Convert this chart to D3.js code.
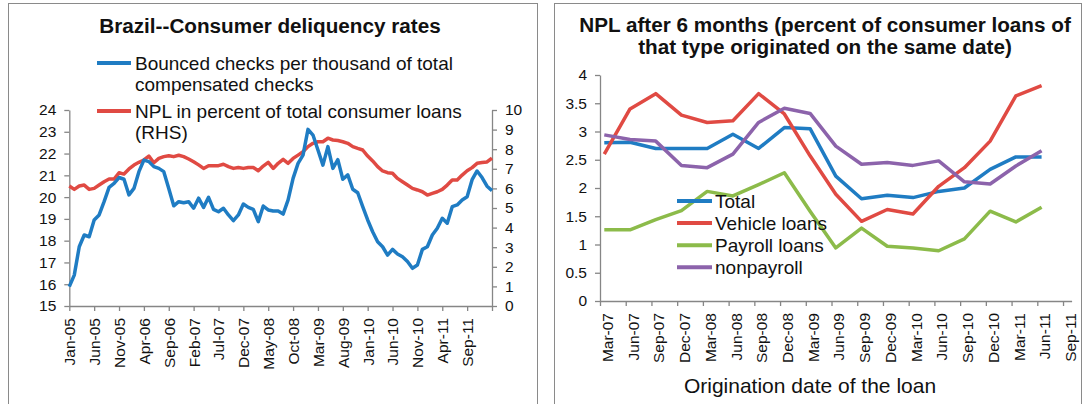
<!DOCTYPE html>
<html>
<head>
  <meta charset="utf-8">
  <title>Brazil consumer delinquency</title>
  <script src="https://d3js.org/d3.v7.min.js"></script>
  <style>
    body { margin: 0; background: #fff; }
    text { font-family: "Liberation Sans", Arial, sans-serif; fill: #111; }
    .axis path, .axis line { stroke: #868686; stroke-width: 1.3; }
    .axis text { font-size: 15.5px; fill: #111; }
    .title { font-size: 20.7px; font-weight: bold; }
    .legend { font-size: 19px; }
  </style>
</head>
<body>
<svg id="chart"></svg>
<script>
  // ---- left panel data: monthly, Jan-05 .. Feb-12 ----
  const bouncedChecks = [15.89, 16.42, 17.72, 18.26, 18.18, 18.95, 19.18, 19.79, 20.45, 20.63,
    20.9, 20.82, 20.1, 20.4, 21.17, 21.7, 21.63, 21.4, 21.32, 21.17,
    20.4, 19.6, 19.79, 19.74, 19.79, 19.49, 19.95, 19.53, 19.99, 19.44,
    19.33, 19.49, 19.18, 18.92, 19.18, 19.68, 19.53, 19.44, 18.87, 19.59,
    19.41, 19.36, 19.36, 19.22, 19.87, 20.86, 21.55, 21.93, 23.11, 22.85,
    22.16, 21.47, 22.32, 21.32, 21.72, 20.82, 21.02, 20.36, 20.2, 19.56,
    18.95, 18.41, 17.95, 17.72, 17.34, 17.6, 17.39, 17.26, 17.04, 16.73,
    16.88, 17.6, 17.72, 18.26, 18.57, 19.03, 18.8, 19.56, 19.64, 19.87,
    20.02, 20.8, 21.2, 20.9, 20.5, 20.3];
  const nplConsumer = [6.12, 5.95, 6.12, 6.17, 5.95, 6.0, 6.17, 6.34, 6.48, 6.48,
    6.8, 6.73, 6.99, 7.19, 7.33, 7.45, 7.65, 7.31, 7.53, 7.62,
    7.67, 7.62, 7.69, 7.62, 7.5, 7.36, 7.2, 7.02, 7.16, 7.16,
    7.16, 7.23, 7.11, 7.02, 7.07, 7.02, 7.07, 7.07, 6.9, 7.14,
    7.33, 7.02, 7.28, 7.48, 7.28, 7.53, 7.7, 7.87, 8.13, 8.3,
    8.38, 8.38, 8.56, 8.47, 8.44, 8.38, 8.3, 8.13, 8.04, 7.96,
    7.65, 7.4, 7.11, 6.89, 6.8, 6.77, 6.51, 6.34, 6.17, 6.0,
    5.92, 5.83, 5.66, 5.75, 5.83, 5.95, 6.17, 6.43, 6.43, 6.68,
    6.9, 7.06, 7.28, 7.32, 7.35, 7.55];
  const monthTickLabels = ["Jan-05", "Jun-05", "Nov-05", "Apr-06", "Sep-06", "Feb-07", "Jul-07",
    "Dec-07", "May-08", "Oct-08", "Mar-09", "Aug-09", "Jan-10", "Jun-10", "Nov-10", "Apr-11", "Sep-11"];

  // ---- right panel data: quarterly, Mar-07 .. Jun-11 ----
  const quarterLabels = ["Mar-07", "Jun-07", "Sep-07", "Dec-07", "Mar-08", "Jun-08", "Sep-08", "Dec-08",
    "Mar-09", "Jun-09", "Sep-09", "Dec-09", "Mar-10", "Jun-10", "Sep-10", "Dec-10", "Mar-11", "Jun-11", "Sep-11"];
  const totalNpl = [2.80, 2.81, 2.70, 2.70, 2.70, 2.95, 2.70, 3.07, 3.05, 2.21, 1.81, 1.87, 1.83, 1.94, 2.00, 2.33, 2.55, 2.55];
  const vehicleNpl = [2.60, 3.40, 3.67, 3.29, 3.16, 3.19, 3.67, 3.31, 2.57, 1.89, 1.41, 1.62, 1.54, 2.03, 2.36, 2.83, 3.63, 3.81];
  const payrollNpl = [1.26, 1.26, 1.44, 1.60, 1.94, 1.86, 2.06, 2.27, 1.59, 0.94, 1.29, 0.97, 0.94, 0.89, 1.10, 1.59, 1.40, 1.66];
  const nonpayrollNpl = [2.94, 2.86, 2.83, 2.40, 2.36, 2.60, 3.16, 3.41, 3.32, 2.74, 2.42, 2.45, 2.40, 2.48, 2.11, 2.07, 2.39, 2.66];

  const blue = "#1f7cc3", red = "#e04a43", green = "#8cbb4a", purple = "#8c63ab";

  const svg = d3.select("#chart").attr("width", 1086).attr("height", 404);

  // panel frames
  svg.append("rect").attr("x", 8.5).attr("y", 3.5).attr("width", 529).attr("height", 420)
    .attr("fill", "none").attr("stroke", "#8a8a8a");
  svg.append("rect").attr("x", 554.5).attr("y", 3.5).attr("width", 527).attr("height", 420)
    .attr("fill", "none").attr("stroke", "#8a8a8a");

  // ================= left chart =================
  const left = svg.append("g");
  const xL = d3.scaleLinear().domain([0, 85]).range([69.3, 492]);
  const yL = d3.scaleLinear().domain([15, 24]).range([306, 110]);
  const yR = d3.scaleLinear().domain([0, 10]).range([306, 110]);

  left.append("g").attr("class", "axis").attr("transform", "translate(69.3,0)")
    .call(d3.axisLeft(yL).tickValues(d3.range(15, 25)).tickSize(5).tickSizeOuter(0).tickPadding(8));
  left.append("g").attr("class", "axis").attr("transform", "translate(492,0)")
    .call(d3.axisRight(yR).tickValues(d3.range(0, 11)).tickSize(5).tickSizeOuter(0).tickPadding(8));
  const xAxisL = left.append("g").attr("class", "axis").attr("transform", "translate(0,306)")
    .call(d3.axisBottom(xL).tickValues(d3.range(0, 86, 5)).tickSize(5).tickSizeOuter(0)
      .tickFormat((d, i) => monthTickLabels[i] || ""));
  xAxisL.selectAll("text")
    .attr("transform", "rotate(-90)")
    .attr("text-anchor", "end")
    .attr("x", -12).attr("y", 0).attr("dy", "0.35em");

  const lineL = d3.line().x((d, i) => xL(i)).y(d => yL(d));
  const lineR = d3.line().x((d, i) => xL(i)).y(d => yR(d));
  left.append("path").datum(nplConsumer).attr("d", lineR)
    .attr("fill", "none").attr("stroke", red).attr("stroke-width", 3.5).attr("stroke-linejoin", "round");
  left.append("path").datum(bouncedChecks).attr("d", lineL)
    .attr("fill", "none").attr("stroke", blue).attr("stroke-width", 3.5).attr("stroke-linejoin", "round");

  left.append("text").attr("class", "title").attr("x", 270).attr("y", 33)
    .attr("text-anchor", "middle").text("Brazil--Consumer deliquency rates");

  const legL = [
    { color: blue, y: 63, lines: ["Bounced checks per thousand of total", "compensated checks"] },
    { color: red, y: 111, lines: ["NPL in percent of total consumer loans", "(RHS)"] }
  ];
  legL.forEach(d => {
    left.append("line").attr("x1", 97).attr("x2", 131).attr("y1", d.y).attr("y2", d.y)
      .attr("stroke", d.color).attr("stroke-width", 4);
    d.lines.forEach((t, k) => {
      left.append("text").attr("class", "legend").attr("x", 135).attr("y", d.y + 7 + k * 21).text(t);
    });
  });

  // ================= right chart =================
  const right = svg.append("g");
  const xQ = d3.scaleLinear().domain([0, 55]).range([600, 1071.6]);
  const yQ = d3.scaleLinear().domain([0, 4]).range([301, 75]);

  right.append("g").attr("class", "axis").attr("transform", "translate(600,0)")
    .call(d3.axisLeft(yQ).tickValues(d3.range(0, 4.01, 0.5)).tickSize(5).tickSizeOuter(0).tickPadding(8)
      .tickFormat(d => String(d)));
  const xAxisR = right.append("g").attr("class", "axis").attr("transform", "translate(0,301)")
    .call(d3.axisBottom(xQ).tickValues(d3.range(0, 55, 3)).tickSize(5).tickSizeOuter(0)
      .tickFormat((d, i) => quarterLabels[i]));
  xAxisR.selectAll("text")
    .attr("transform", "rotate(-90)")
    .attr("text-anchor", "end")
    .attr("x", -12).attr("y", 7).attr("dy", "0.35em");

  const lineQ = d3.line().x((d, i) => xQ(i * 3 + 0.5)).y(d => yQ(d));
  const seriesQ = [
    { name: "Total", values: totalNpl, color: blue },
    { name: "Vehicle loans", values: vehicleNpl, color: red },
    { name: "Payroll loans", values: payrollNpl, color: green },
    { name: "nonpayroll", values: nonpayrollNpl, color: purple }
  ];
  seriesQ.forEach(s => {
    right.append("path").datum(s.values).attr("d", lineQ)
      .attr("fill", "none").attr("stroke", s.color).attr("stroke-width", 3.5).attr("stroke-linejoin", "round");
  });

  right.append("text").attr("class", "title").attr("x", 825).attr("y", 32)
    .attr("text-anchor", "middle").text("NPL after 6 months (percent of consumer loans of");
  right.append("text").attr("class", "title").attr("x", 825).attr("y", 54)
    .attr("text-anchor", "middle").text("that type originated on the same date)");

  seriesQ.forEach((s, k) => {
    const y = 201 + k * 22.1;
    right.append("line").attr("x1", 677).attr("x2", 712).attr("y1", y).attr("y2", y)
      .attr("stroke", s.color).attr("stroke-width", 4);
    right.append("text").attr("class", "legend").attr("x", 715).attr("y", y + 6.5).text(s.name);
  });

  right.append("text").attr("x", 810).attr("y", 393).attr("text-anchor", "middle")
    .style("font-size", "21px").text("Origination date of the loan");
</script>
</body>
</html>
